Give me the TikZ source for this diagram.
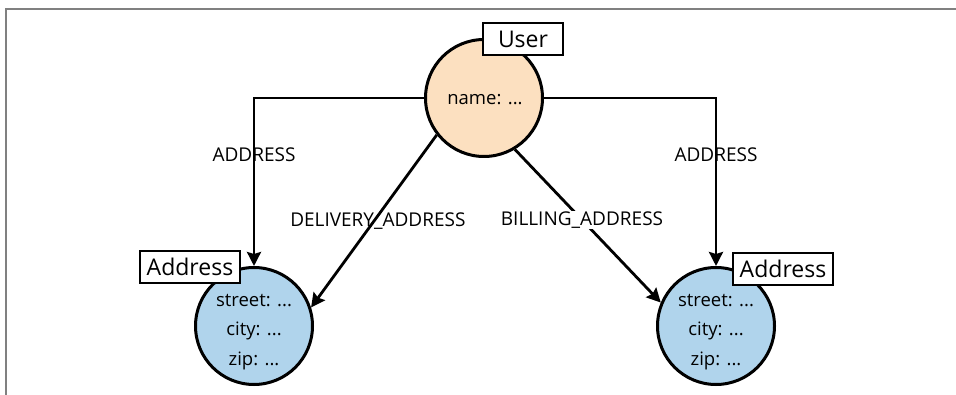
\documentclass[tikz,border=0pt]{standalone}
\usepackage{fontspec}
\setmainfont{Open Sans}
\usepackage{tikz}
\usetikzlibrary{arrows.meta}
\definecolor{userfill}{RGB}{252,224,192}
\definecolor{addrfill}{RGB}{176,212,236}
\tikzset{
	entity/.style={circle,draw,line width=3pt,minimum size=117pt,inner sep=0pt},
	fields/.style={align=center,font=\fontsize{18.5}{29.5}\selectfont},
	tagbox/.style={draw,fill=white,line width=2pt,minimum height=32pt,inner sep=2pt,font=\fontsize{23}{23}\selectfont},
	rel/.style={line width=2.8pt,-{Stealth[length=14pt,width=14pt,inset=2pt]}},
	rellabel/.style={font=\fontsize{19}{19}\selectfont}
}

\begin{document}
\begin{tikzpicture}[x=1pt,y=-1pt]
		\useasboundingbox (0,0) rectangle (956,395);
		\draw[gray,line width=1.5pt] (6,395) -- (6,9) -- (956,9);

		\node[entity,fill=userfill] (user) at (484,98) {};
		\node[entity,fill=addrfill] (addrL) at (254,326) {};
		\node[entity,fill=addrfill] (addrR) at (716,326) {};
		\node[fields] (userFields) at (485,100) {name: ...};
		\node[fields] (addrLFields) at (254,332) {street: ...\\city: ...\\zip: ...};
		\node[fields] (addrRFields) at (716,332) {street: ...\\city: ...\\zip: ...};

		\draw[rel] (user.west) -| (addrL.north) node[rellabel,pos=0.67] {ADDRESS};
		\draw[rel] (user.east) -| (addrR.north) node[rellabel,pos=0.67] {ADDRESS};
		\draw[rel] (user.218) -- (addrL.18) node[rellabel,pos=0.5,xshift=4pt] {DELIVERY\_ADDRESS};
		\draw[rel] (user.301) -- (addrR.157) node[rellabel,pos=0.46,fill=white,inner sep=1pt] {BILLING\_ADDRESS};

		\node[tagbox,minimum width=80pt] (userTag) at (523,39) {User};
		\node[tagbox,minimum width=100pt] (addrLTag) at (190,267) {Address};
		\node[tagbox,minimum width=100pt] (addrRTag) at (783,269) {Address};
\end{tikzpicture}
\end{document}
